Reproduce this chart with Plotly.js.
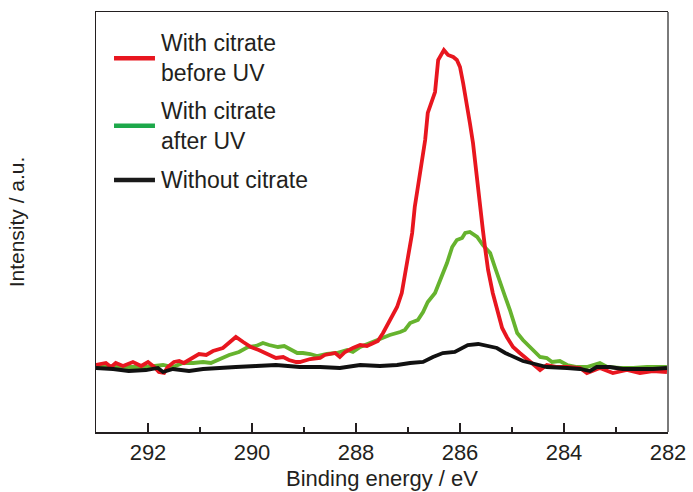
<!DOCTYPE html>
<html>
<head>
<meta charset="utf-8">
<script src="https://cdn.plot.ly/plotly-3.0.1.min.js"></script>
<style>html,body{margin:0;padding:0;background:#fff;}#chart{width:693px;height:492px;}</style>
</head>
<body>
<div id="chart"></div>
<script>
// Binding energy (eV) and intensity (a.u.)
const redE = [293.00,292.81,292.71,292.62,292.48,292.29,292.13,292.00,291.88,291.79,291.69,291.62,291.50,291.40,291.31,291.13,291.02,290.88,290.75,290.56,290.44,290.31,290.17,290.02,289.87,289.67,289.54,289.40,289.29,289.15,289.08,288.88,288.69,288.60,288.40,288.31,288.21,288.06,287.92,287.79,287.67,287.58,287.48,287.35,287.21,287.12,287.06,287.00,286.92,286.87,286.81,286.73,286.67,286.62,286.54,286.48,286.42,286.35,286.31,286.23,286.13,286.06,286.00,285.94,285.87,285.81,285.75,285.71,285.67,285.62,285.56,285.52,285.46,285.37,285.27,285.19,285.10,284.98,284.85,284.69,284.52,284.46,284.33,284.13,283.94,283.69,283.56,283.31,283.06,282.79,282.54,282.29,282.02];
const redI = [67,69,65,69,66,70,66,70,65,60,59,65,70,71,69,74,78,77,81,84,89,95,90,85,82,77,74,75,72,70,70,73,74,77,79,75,80,84,87,86,89,91,99,112,125,139,155,175,199,225,245,269,292,319,330,340,372,379,382,377,375,372,365,349,329,309,289,269,252,225,202,185,162,139,119,104,95,85,79,72,65,62,67,65,65,64,59,64,59,62,59,61,60];

const greenE = [293.00,292.62,292.37,292.04,291.71,291.52,291.33,291.13,290.94,290.79,290.63,290.44,290.25,290.08,289.92,289.79,289.67,289.50,289.38,289.25,289.13,289.02,288.88,288.75,288.56,288.37,288.17,288.06,287.92,287.73,287.54,287.35,287.15,287.06,286.96,286.81,286.71,286.62,286.48,286.38,286.25,286.15,286.06,285.96,285.90,285.81,285.67,285.56,285.42,285.33,285.23,285.13,285.04,284.90,284.79,284.60,284.46,284.33,284.23,284.08,283.94,283.75,283.56,283.31,283.17,282.92,282.67,282.40,282.02];
const greenI = [66,65,65,65,67,65,69,69,70,69,73,77,80,85,86,89,87,85,86,82,79,79,78,76,78,79,82,80,85,89,93,97,100,102,109,112,120,130,139,152,169,185,192,194,199,200,195,187,179,165,149,135,122,99,92,82,75,74,70,71,67,65,65,69,65,64,64,65,65];

const blackE = [293.00,292.67,292.37,292.04,291.81,291.71,291.52,291.21,290.94,290.69,290.31,289.92,289.54,289.08,288.69,288.31,288.12,287.92,287.54,287.21,286.96,286.71,286.52,286.33,286.10,285.96,285.85,285.65,285.48,285.29,285.13,284.98,284.79,284.56,284.33,283.94,283.69,283.50,283.37,283.12,282.87,282.54,282.29,282.02];
const blackI = [64,63,61,62,64,60,63,61,63,64,65,66,67,65,65,64,65,67,66,67,69,70,75,79,80,84,87,88,86,84,79,75,71,68,65,64,63,61,65,65,63,63,63,64];

const seriesNames = ["With citrate<br>before UV", "With citrate<br>after UV", "Without citrate"];
const lineColors = ["#e8161f", "#66b32e", "#111111"];
const legendColors = ["#e8161f", "#1da84a", "#1a1a1a"];
const xTickVals = [292, 290, 288, 286, 284, 282];
const xTickText = ["292", "290", "288", "286", "284", "282"];

const FONT = "Liberation Sans, Arial, Helvetica, sans-serif";

const redTrace = {x: redE, y: redI, name: seriesNames[0], type: "scatter", mode: "lines", line: {color: lineColors[0], width: 3.8}};
const greenTrace = {x: greenE, y: greenI, name: seriesNames[1], type: "scatter", mode: "lines", line: {color: lineColors[1], width: 3.8}};
const blackTrace = {x: blackE, y: blackI, name: seriesNames[2], type: "scatter", mode: "lines", line: {color: lineColors[2], width: 3.8}};
const ordered = [greenTrace, redTrace, blackTrace];

// manual legend (paper coords)
const legY = [0.890, 0.729, 0.600];
const shapes = [];
const annotations = [];
for (let i = 0; i < 3; i++) {
  shapes.push({type: "line", xref: "paper", yref: "paper", x0: 0.0315, x1: 0.1031, y0: legY[i], y1: legY[i],
    line: {color: legendColors[i], width: 4.5}});
  annotations.push({xref: "paper", yref: "paper", x: 0.1105, y: legY[i], xanchor: "left", yanchor: "middle",
    text: seriesNames[i], showarrow: false, align: "left", font: {family: FONT, size: 23, color: "#231f20"}});
}
// right frame edge (gray)
shapes.push({type: "line", xref: "paper", yref: "paper", x0: 1, x1: 1, y0: 0, y1: 1, line: {color: "#7a7a7a", width: 2}});

const layout = {
  width: 693, height: 492,
  margin: {l: 96, r: 25, t: 12, b: 60},
  paper_bgcolor: "#fff", plot_bgcolor: "#fff",
  showlegend: false,
  font: {family: FONT, size: 22, color: "#231f20"},
  xaxis: {
    range: [293, 282], tickmode: "array", tickvals: xTickVals, ticktext: xTickText,
    ticks: "inside", ticklen: 9, tickwidth: 1.2, tickcolor: "#231f20",
    minor: {tickmode: "linear", tick0: 283, dtick: 1, ticks: "inside", ticklen: 5, tickwidth: 1.2, tickcolor: "#231f20", showgrid: false},
    showline: true, linecolor: "#231f20", linewidth: 1.5, mirror: true,
    showgrid: false, zeroline: false,
    tickfont: {family: FONT, size: 22, color: "#231f20"},
    title: {text: "Binding energy / eV", font: {family: FONT, size: 22, color: "#231f20"}, standoff: 6}
  },
  yaxis: {
    range: [0, 420], showticklabels: false, ticks: "",
    showline: true, linecolor: "#231f20", linewidth: 1.5,
    showgrid: false, zeroline: false,
    title: {text: "Intensity / a.u.", font: {family: FONT, size: 21, color: "#231f20"}, standoff: 64}
  },
  shapes: shapes,
  annotations: annotations
};

Plotly.newPlot("chart", ordered, layout, {displayModeBar: false, staticPlot: true});
</script>
</body>
</html>
